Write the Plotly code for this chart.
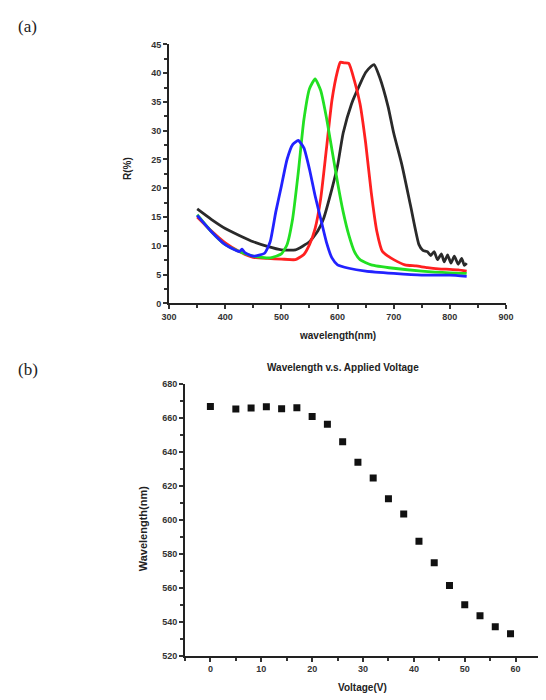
import plotly.graph_objects as go

# ---- (a) reflectance spectra ----
wl_black = [350, 375, 400, 425, 450, 475, 500, 525, 550, 565, 575, 590, 600, 610, 625, 640, 650, 660, 665,
            675, 690, 700, 715, 730, 745, 752, 760, 766, 772, 778, 785, 790, 796, 802, 808, 815, 821, 826, 830]
r_black = [16.4, 14.6, 13.0, 11.8, 10.7, 9.9, 9.3, 9.3, 10.7, 12.6, 14.7, 19.9, 23.9, 29.6, 34.7, 38.1, 40.1, 41.2, 41.5,
           39.3, 34.2, 29.6, 23.9, 17.0, 10.2, 9.2, 9.0, 8.3, 9.0, 7.6, 8.6, 7.2, 8.4, 7.0, 8.2, 6.8, 7.8, 6.6, 7.0]

wl_red = [350, 375, 400, 425, 450, 475, 500, 525, 540, 550, 560, 570, 580, 590, 600, 605, 612, 620, 630, 640,
          650, 660, 670, 680, 690, 700, 720, 740, 760, 780, 800, 815, 830]
r_red = [15.0, 12.6, 10.5, 9.0, 8.0, 7.8, 7.7, 7.6, 8.5, 10.2, 13.0, 18.2, 26.7, 35.3, 40.4, 41.9, 41.8, 41.7, 38.7, 34.7,
         27.9, 19.3, 12.5, 9.0, 8.2, 7.6, 6.7, 6.5, 6.2, 6.0, 5.9, 5.8, 5.6]

wl_green = [350, 375, 400, 425, 450, 480, 500, 510, 520, 530, 540, 550, 560, 570, 580, 590, 600, 610, 620, 630,
            640, 660, 700, 750, 800, 830]
r_green = [15.4, 12.5, 10.2, 9.0, 8.2, 7.9, 8.6, 10.2, 14.7, 22.7, 31.9, 37.3, 39.0, 37.0, 32.4, 26.7, 21.0, 15.9, 11.9, 9.0,
           7.6, 6.7, 6.1, 5.6, 5.3, 5.2]

wl_blue = [350, 375, 400, 425, 430, 435, 450, 470, 480, 490, 500, 510, 520, 530, 540, 550, 560, 570, 580, 590,
           600, 620, 650, 700, 750, 800, 830]
r_blue = [15.3, 12.5, 10.2, 9.0, 9.4, 8.8, 8.2, 8.7, 10.7, 15.9, 20.4, 25.0, 27.6, 28.3, 27.0, 23.3, 18.7, 14.7, 10.7, 7.9,
          6.7, 6.1, 5.6, 5.2, 4.9, 4.9, 4.7]

# ---- (b) peak wavelength vs applied voltage ----
voltage = [0, 5, 8, 11, 14, 17, 20, 23, 26, 29, 32, 35, 38, 41, 44, 47, 50, 53, 56, 59]
peak_wl = [666.6, 665.1, 665.7, 666.5, 665.3, 665.9, 660.7, 656.2, 645.9, 633.8, 624.5, 612.3, 603.4, 587.3,
           574.6, 561.2, 550.0, 543.4, 537.0, 532.8]

TICK_FONT = dict(family="Liberation Sans", size=9, color="#333333", weight="bold")

fig = go.Figure()

spectra = [
    (wl_black, r_black, "#2a2a2a"),
    (wl_red, r_red, "#ff2020"),
    (wl_green, r_green, "#22e022"),
    (wl_blue, r_blue, "#2222ff"),
]
for x, y, c in spectra:
    fig.add_trace(go.Scatter(x=x, y=y, mode="lines", line=dict(color=c, width=2.8, shape="spline", smoothing=0.5),
                             xaxis="x", yaxis="y", showlegend=False))

fig.add_trace(go.Scatter(x=voltage, y=peak_wl, mode="markers",
                         marker=dict(symbol="square", size=7, color="#111111"),
                         xaxis="x2", yaxis="y2", showlegend=False))

axis_common = dict(showgrid=False, zeroline=False, showline=True, linecolor="#222222", linewidth=2,
                   ticks="outside", ticklen=4, tickwidth=1.5, tickcolor="#333333", tickfont=TICK_FONT)
minor_common = dict(ticks="outside", ticklen=3, tickcolor="#333333")

fig.update_layout(
    width=546, height=700,
    margin=dict(l=0, r=0, t=0, b=0),
    paper_bgcolor="white", plot_bgcolor="white",
    xaxis=dict(domain=[0.304, 0.9396], range=[300, 900], anchor="y", tickmode="linear", tick0=300, dtick=100,
               minor=dict(dtick=50, **minor_common), **axis_common),
    yaxis=dict(domain=[0.5676, 0.9429], range=[0, 45], anchor="x", tickmode="linear", tick0=0, dtick=5,
               minor=dict(dtick=2.5, **minor_common), **axis_common),
    xaxis2=dict(domain=[0.3339, 1.0], range=[-5, 64.4], anchor="y2", tickmode="linear", tick0=0, dtick=10,
                minor=dict(dtick=5, **minor_common), **axis_common),
    yaxis2=dict(domain=[0.0571, 0.451], range=[520, 680], anchor="x2", tickmode="linear", tick0=520, dtick=20,
                minor=dict(dtick=10, **minor_common), **axis_common),
)

# text placed in pixel positions, converted to paper coordinates
W, H = 546, 700


def px(xp, yp):
    return xp / W, 1 - yp / H


labels = [
    ("(a)", 8, 22, "Liberation Serif", 17, 0, False, "left"),
    ("(b)", 8, 370, "Liberation Serif", 17, 0, False, "left"),
    ("R(%)", 123, 166, "Liberation Sans", 10, -90, True, "center"),
    ("wavelength(nm)", 339, 335, "Liberation Sans", 10, 0, True, "center"),
    ("Wavelength v.s. Applied Voltage", 345, 368, "Liberation Sans", 10, 0, True, "center"),
    ("Wavelength(nm)", 140, 531, "Liberation Sans", 11, -90, True, "center"),
    ("Voltage(V)", 365, 692, "Liberation Sans", 10, 0, True, "center"),
]
anns = []
for text, xp, yp, fam, size, ang, bold, xa in labels:
    x, y = px(xp, yp)
    anns.append(dict(text=f"<b>{text}</b>" if bold else text, x=x, y=y, xref="paper", yref="paper",
                     showarrow=False, textangle=ang, xanchor=xa, yanchor="middle",
                     font=dict(family=fam, size=size, color="#222222")))
fig.update_layout(annotations=anns)

fig.write_html("out.html")
